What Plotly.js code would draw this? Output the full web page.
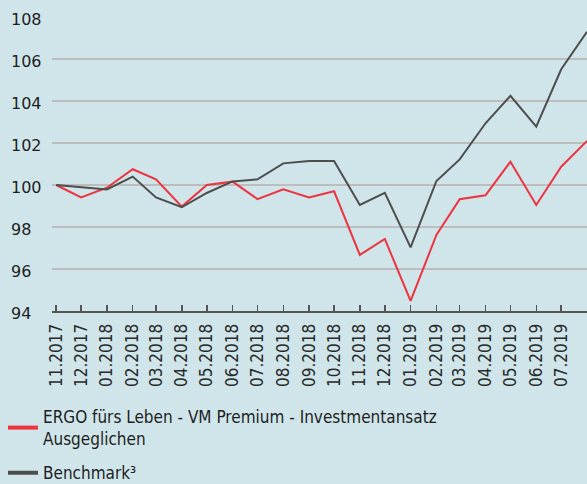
<!DOCTYPE html>
<html>
<head>
<meta charset="utf-8">
<script src="https://cdn.plot.ly/plotly-3.0.1.min.js"></script>
<style>
html,body{margin:0;padding:0;background:#cfe5ea;}
#chart{width:587px;height:484px;}
</style>
</head>
<body>
<div id="chart"></div>
<script>
// Data
const dates = ["2017-11-01","2017-12-01","2018-01-01","2018-02-01","2018-03-01","2018-04-01","2018-05-01","2018-06-01","2018-07-01","2018-08-01","2018-09-01","2018-10-01","2018-11-01","2018-12-01","2019-01-01","2019-02-01","2019-03-01","2019-04-01","2019-05-01","2019-06-01","2019-07-01","2019-08-01"];
const tickLabels = ["11.2017","12.2017","01.2018","02.2018","03.2018","04.2018","05.2018","06.2018","07.2018","08.2018","09.2018","10.2018","11.2018","12.2018","01.2019","02.2019","03.2019","04.2019","05.2019","06.2019","07.2019"];
const ergo = [100.0, 99.41, 99.87, 100.75, 100.27, 98.97, 100.0, 100.16, 99.33, 99.79, 99.41, 99.70, 96.67, 97.43, 94.48, 97.62, 99.32, 99.51, 101.11, 99.05, 100.87, 102.1];
const benchmark = [100.0, 99.89, 99.79, 100.40, 99.41, 98.94, 99.62, 100.17, 100.27, 101.03, 101.14, 101.14, 99.05, 99.63, 97.03, 100.19, 101.22, 102.94, 104.25, 102.78, 105.51, 107.3];
const yTicks = [94, 96, 98, 100, 102, 104, 106, 108];
const seriesNames = ["ERGO fürs Leben - VM Premium - Investmentansatz<br>Ausgeglichen", "Benchmark³"];
const seriesColors = ["#ee3340", "#4d4d4d"];

const labelFont = "'DejaVu Sans Condensed', 'DejaVu Sans', sans-serif";

const seriesValues = [ergo, benchmark];
const traces = [];
seriesValues.forEach((vals, i) => {
  traces.push({x: dates, y: vals, type: "scatter", mode: "lines", name: seriesNames[i],
    showlegend: false, line: {color: seriesColors[i], width: 2}});
});
// legend entries with thicker key lines
seriesValues.forEach((vals, i) => {
  traces.push({x: [null], y: [null], type: "scatter", mode: "lines", name: seriesNames[i],
    legendgroup: "g" + i, showlegend: true, line: {color: seriesColors[i], width: 4}});
});

const plotLeft = 52, plotW = 535;
const annotations = yTicks.map(v => ({
  x: (9 - plotLeft) / plotW, xref: "paper", xanchor: "left",
  y: v, yref: "y", yanchor: "middle", yshift: -2,
  text: String(v), showarrow: false,
  font: {family: "'DejaVu Sans', sans-serif", size: 16, color: "#1e1e1e"}
}));

const layout = {
  width: 587, height: 484,
  margin: {l: plotLeft, r: 0, t: 17, b: 173, autoexpand: false},
  paper_bgcolor: "#cfe5ea",
  plot_bgcolor: "#cfe5ea",
  showlegend: true,
  xaxis: {
    type: "date",
    range: ["2017-10-27", "2019-08-01"],
    tickmode: "array",
    tickvals: dates.slice(0, tickLabels.length),
    ticktext: tickLabels,
    tickangle: -90,
    ticks: "inside", ticklen: 6, tickwidth: 1.5, tickcolor: "#555",
    showline: true, linecolor: "#555", linewidth: 2,
    showgrid: false, zeroline: false,
    tickfont: {family: labelFont, size: 17, color: "#2a2a2a"},
    ticklabelstandoff: 4
  },
  yaxis: {
    range: [94, 108],
    tickmode: "array",
    tickvals: yTicks.filter(v => v > yTicks[0] && v < yTicks[yTicks.length - 1]),
    showticklabels: false,
    ticks: "",
    showgrid: true, gridcolor: "#bdbdbd", gridwidth: 1.5,
    zeroline: false, showline: false
  },
  annotations: annotations,
  legend: {
    x: (3 - plotLeft) / plotW, xanchor: "left",
    y: -(399 - 311) / 294, yanchor: "top",
    bgcolor: "rgba(0,0,0,0)",
    font: {family: labelFont, size: 17, color: "#1e1e1e"},
    orientation: "v",
    tracegroupgap: 9
  }
};

Plotly.newPlot("chart", traces, layout, {displayModeBar: false, staticPlot: true});
</script>
</body>
</html>
